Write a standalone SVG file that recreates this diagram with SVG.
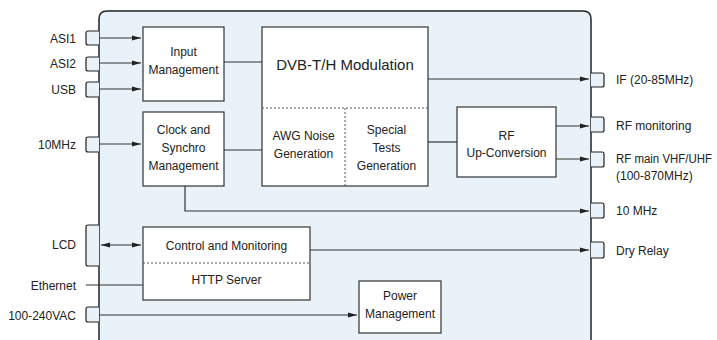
<svg xmlns="http://www.w3.org/2000/svg" width="717" height="340" viewBox="0 0 717 340">
<defs>
<style>
text{font-family:"Liberation Sans",Arial,sans-serif;font-size:12px;fill:#222}
.box{fill:#fff;stroke:#333;stroke-width:1.2}
.port{fill:#e9f2f9;stroke:#222;stroke-width:1.2}
.ln{fill:none;stroke:#333;stroke-width:1.2}
.arr{fill:none;stroke:#333;stroke-width:1.2;marker-end:url(#ah)}
.dash{fill:none;stroke:#555;stroke-width:1;stroke-dasharray:2 2}
.c{text-anchor:middle}
.r{text-anchor:end}
</style>
<marker id="ah" markerWidth="9" markerHeight="6" refX="9" refY="3" orient="auto" markerUnits="userSpaceOnUse">
<path d="M0,0.5 L9,3 L0,5.5 z" fill="#222"/>
</marker>
<marker id="as" markerWidth="9" markerHeight="6" refX="0" refY="3" orient="auto" markerUnits="userSpaceOnUse">
<path d="M9,0.5 L0,3 L9,5.5 z" fill="#222"/>
</marker>
</defs>
<path id="chassis" d="M99,342 V19 Q99,11 107,11 H583 Q591,11 591,19 V342" fill="#e9f2f9" stroke="#222" stroke-width="1.5"/>
<g id="ports">
<path class="port" d="M99,31 H88 Q86,31 86,33 V43 Q86,45 88,45 H99"/>
<path class="port" d="M99,57 H88 Q86,57 86,59 V69 Q86,71 88,71 H99"/>
<path class="port" d="M99,82 H88 Q86,82 86,84 V95 Q86,97 88,97 H99"/>
<path class="port" d="M99,137 H88 Q86,137 86,139 V150 Q86,152 88,152 H99"/>
<path class="port" d="M99,225 H88 Q86,225 86,227 V264 Q86,266 88,266 H99"/>
<path class="port" d="M99,307 H88 Q86,307 86,309 V320 Q86,322 88,322 H99"/>
<path class="port" d="M591,73 H602 Q604,73 604,75 V85 Q604,87 602,87 H591"/>
<path class="port" d="M591,117 H602 Q604,117 604,119 V130 Q604,132 602,132 H591"/>
<path class="port" d="M591,152 H602 Q604,152 604,154 V165 Q604,167 602,167 H591"/>
<path class="port" d="M591,203 H602 Q604,203 604,205 V216 Q604,218 602,218 H591"/>
<path class="port" d="M591,242 H602 Q604,242 604,244 V256 Q604,258 602,258 H591"/>
</g>
<g id="port-labels">
<text class="r" x="76" y="43">ASI1</text>
<text class="r" x="76" y="68">ASI2</text>
<text class="r" x="76" y="94">USB</text>
<text class="r" x="76" y="149">10MHz</text>
<text class="r" x="76" y="249">LCD</text>
<text class="r" x="76" y="290">Ethernet</text>
<text class="r" x="76" y="320">100-240VAC</text>
<text x="616" y="84">IF (20-85MHz)</text>
<text x="616" y="130">RF monitoring</text>
<text x="616" y="163" textLength="96" lengthAdjust="spacingAndGlyphs">RF main VHF/UHF</text>
<text x="616" y="180">(100-870MHz)</text>
<text x="616" y="215">10 MHz</text>
<text x="616" y="255">Dry Relay</text>
</g>
<g id="input-management">
<rect class="box" x="143" y="27" width="81" height="74"/>
<text class="c" x="183.5" y="56">Input</text>
<text class="c" x="183.5" y="74">Management</text>
</g>
<g id="clock-synchro">
<rect class="box" x="143" y="112" width="81" height="74"/>
<text class="c" x="183.5" y="134">Clock and</text>
<text class="c" x="183.5" y="152">Synchro</text>
<text class="c" x="183.5" y="170">Management</text>
</g>
<g id="dvb-modulation">
<rect class="box" x="262" y="27" width="166" height="159"/>
<line class="dash" x1="262" y1="108" x2="428" y2="108"/>
<line class="dash" x1="345" y1="108" x2="345" y2="186"/>
<text class="c" x="345" y="70" style="font-size:15px">DVB-T/H Modulation</text>
<text class="c" x="303.5" y="140">AWG Noise</text>
<text class="c" x="303.5" y="158">Generation</text>
<text class="c" x="386.5" y="134">Special</text>
<text class="c" x="386.5" y="152">Tests</text>
<text class="c" x="386.5" y="170">Generation</text>
</g>
<g id="rf-upconversion">
<rect class="box" x="457" y="107" width="99" height="70"/>
<text class="c" x="506.5" y="140">RF</text>
<text class="c" x="506.5" y="157">Up-Conversion</text>
</g>
<g id="control-monitoring">
<rect class="box" x="143" y="227" width="167" height="73"/>
<line class="dash" x1="143" y1="263" x2="310" y2="263"/>
<text class="c" x="226.5" y="250">Control and Monitoring</text>
<text class="c" x="226.5" y="284">HTTP Server</text>
</g>
<g id="power-management">
<rect class="box" x="359" y="281" width="82" height="52"/>
<text class="c" x="400" y="300">Power</text>
<text class="c" x="400" y="318">Management</text>
</g>
<g id="connectors">
<line class="arr" x1="99" y1="38" x2="141" y2="38"/>
<line class="arr" x1="99" y1="63" x2="141" y2="63"/>
<line class="arr" x1="99" y1="89" x2="141" y2="89"/>
<line class="arr" x1="99" y1="144" x2="141" y2="144"/>
<line class="arr" x1="101" y1="245" x2="141" y2="245" style="marker-start:url(#as)"/>
<line class="ln" x1="86" y1="285" x2="143" y2="285"/>
<line class="arr" x1="99" y1="315" x2="357" y2="315"/>
<line class="ln" x1="224" y1="62" x2="262" y2="62"/>
<line class="ln" x1="224" y1="150" x2="262" y2="150"/>
<line class="arr" x1="428" y1="79" x2="589" y2="79"/>
<line class="ln" x1="428" y1="142" x2="457" y2="142"/>
<line class="arr" x1="556" y1="126" x2="589" y2="126"/>
<line class="arr" x1="556" y1="159" x2="589" y2="159"/>
<polyline class="arr" points="185,186 185,211 589,211"/>
<line class="arr" x1="310" y1="250" x2="589" y2="250"/>
</g>
</svg>
